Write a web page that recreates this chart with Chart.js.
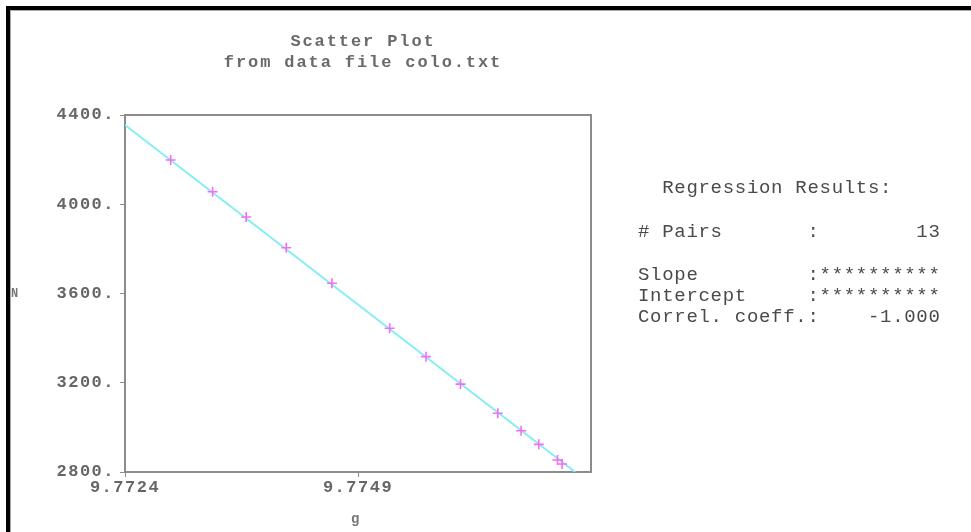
<!DOCTYPE html>
<html>
<head>
<meta charset="utf-8">
<script src="https://cdn.jsdelivr.net/npm/chart.js@4/dist/chart.umd.min.js"></script>
<style>
  body { margin: 0; background: #fff; }
  #wrap { position: relative; width: 971px; height: 532px; overflow: hidden; }
  #frame { position: absolute; left: 6px; top: 6px; width: 1200px; height: 800px;
           border-left: 4px solid #000; border-top: 4px solid #000; }
  #frame-inner { position: absolute; left: 0; top: 0; width: 100%; height: 100%;
                 border-left: 1px solid #aaa; border-top: 1px solid #aaa; }
  canvas { position: absolute; left: 0; top: 0; }
  .txt { position: absolute; font-family: "Liberation Mono", monospace; white-space: pre; }
  .title { left: 0; width: 726px; text-align: center; font-size: 17px; font-weight: bold;
           letter-spacing: 1.9px; color: #6a6a6a; line-height: 18px; }
  .panel { left: 638px; font-size: 19px; letter-spacing: 0.7px; color: #4a4a4a; line-height: 20px; }
  .axl { font-size: 12px; font-weight: bold; color: #777; line-height: 12px; }
</style>
</head>
<body>
<div id="wrap">
  <div id="frame"><div id="frame-inner"></div></div>
  <canvas id="myChart" width="971" height="532"></canvas>
  <div class="txt title" style="top:33px">Scatter Plot</div>
  <div class="txt title" style="top:54px">from data file colo.txt</div>
  <div class="txt axl" style="left:11px; top:288px">N</div>
  <div class="txt axl" style="left:351px; top:513px; font-size:14px">g</div>
  <div class="txt panel" style="top:178px">  Regression Results:</div>
  <div class="txt panel" style="top:222px"># Pairs       :        13</div>
  <div class="txt panel" style="top:265px">Slope         :**********</div>
  <div class="txt panel" style="top:286px">Intercept     :**********</div>
  <div class="txt panel" style="top:307px">Correl. coeff.:    -1.000</div>
</div>
<script>
const gValues = [9.77289, 9.77334, 9.7737, 9.77413, 9.77462, 9.77524, 9.77563,
  9.776, 9.7764, 9.77665, 9.77684, 9.77704, 9.77709];
const nValues = [4198, 4056, 3943, 3805, 3646, 3444, 3317, 3194, 3063, 2985, 2924, 2854, 2836];
const fitG = [9.7724, 9.77723];
const fitN = [4355, 2800];
const xTicks = [9.7724, 9.7749];
const yTicks = [2800, 3200, 3600, 4000, 4400];

const axisGray = "#8c8c8c";
const tickFont = { family: "Liberation Mono", size: 17, weight: "bold" };

const spacing = {
  id: "spacing",
  beforeLayout(chart) { chart.ctx.letterSpacing = "1.5px"; },
  beforeDraw(chart) { chart.ctx.letterSpacing = "1.5px"; },
  afterDraw(chart) {
    const a = chart.chartArea;
    const ctx = chart.ctx;
    ctx.save();
    ctx.strokeStyle = axisGray;
    ctx.lineWidth = 2;
    ctx.beginPath();
    ctx.moveTo(a.left, a.top);
    ctx.lineTo(a.right, a.top);
    ctx.lineTo(a.right, a.bottom);
    ctx.stroke();
    ctx.restore();
  }
};

const chartCanvas = document.getElementById("myChart");
const myChart = new Chart(chartCanvas, {
  type: "scatter",
  data: {
    datasets: [
      {
        label: "fit",
        data: fitG.map((g, i) => ({ x: g, y: fitN[i] })),
        showLine: true,
        borderColor: "#86eef2",
        borderWidth: 2,
        pointRadius: 0,
        order: 2
      },
      {
        label: "N vs g",
        data: gValues.map((g, i) => ({ x: g, y: nValues[i] })),
        pointStyle: "cross",
        pointRadius: 5,
        borderColor: "#f76cf7",
        borderWidth: 1.6,
        order: 1
      }
    ]
  },
  options: {
    responsive: false,
    animation: false,
    devicePixelRatio: 1,
    layout: { padding: { left: 0, top: 115, right: 380, bottom: 0 } },
    plugins: { legend: { display: false }, tooltip: { enabled: false } },
    scales: {
      x: {
        type: "linear",
        min: 9.7724,
        max: 9.7774,
        afterBuildTicks: (scale) => { scale.ticks = xTicks.map((v) => ({ value: v })); },
        afterFit: (scale) => { scale.height = 60; },
        ticks: {
          color: "#666",
          font: tickFont,
          padding: 1,
          maxRotation: 0,
          callback: (v) => v.toFixed(4)
        },
        grid: { drawOnChartArea: false, drawTicks: true, tickLength: 5, color: axisGray, lineWidth: 1 },
        border: { color: axisGray, width: 2 }
      },
      y: {
        min: 2800,
        max: 4400,
        afterBuildTicks: (scale) => { scale.ticks = yTicks.map((v) => ({ value: v })); },
        afterFit: (scale) => { scale.width = 125; },
        ticks: {
          color: "#666",
          font: tickFont,
          padding: 5,
          callback: (v) => v + "."
        },
        grid: { drawOnChartArea: false, drawTicks: true, tickLength: 5, color: axisGray, lineWidth: 1 },
        border: { color: axisGray, width: 2 }
      }
    }
  },
  plugins: [spacing]
});
</script>
</body>
</html>
